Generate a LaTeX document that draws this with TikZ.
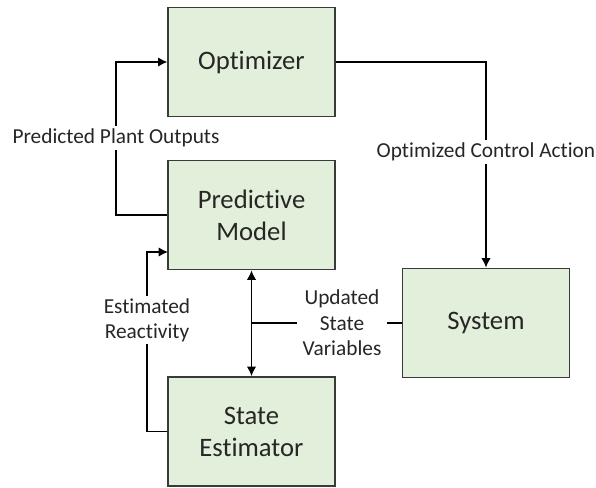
\documentclass[tikz,border=0pt]{standalone}
\usepackage{fontspec}
\setmainfont{Carlito}[Ligatures=NoCommon]
\usetikzlibrary{arrows.meta}
\definecolor{blockgreen}{HTML}{E2EFDA}
\definecolor{blockedge}{HTML}{3A3A3A}
\begin{document}
\begin{tikzpicture}[x=0.75pt,y=0.75pt,yscale=-1,xscale=1,
  block/.style={draw=blockedge, line width=1.2pt, fill=blockgreen, minimum width=125pt, minimum height=82pt, align=center, text=black!85, font=\fontsize{20}{24}\selectfont},
  signal/.style={line width=1pt, black, >={Latex[length=7pt, width=7pt]}},
  tag/.style={fill=white, inner sep=2pt, align=center, text=black!85, font=\fontsize{16}{19}\selectfont}]

\useasboundingbox (0, 0) rectangle (596, 488);

%%%%%%%%%%%%%%%%%%%%%%%%%%%%%%%%%%%%%%%%%%%%%%%%%%%%%%%%%%%%%%%%%%%%%%%%

\node [block] (Optimizer) at (251.5, 62) {Optimizer};
\node [block] (Model) at (251.5, 215) {Predictive\\Model};
\node [block] (Estimator) at (251.5, 431.5) {State\\Estimator};
\node [block] (System) at (486, 323) {System};

%%%%%%%%%%%%%%%%%%%%%%%%%%%%%%%%%%%%%%%%%%%%%%%%%%%%%%%%%%%%%%%%%%%%%%%%

\coordinate (outputs_turn) at (116, 215);
\draw [signal, ->] (Model.west) -- (outputs_turn) |- (Optimizer.west);
\node [tag] (outputs) at (116, 138) {Predicted Plant Outputs};

\draw [signal, ->] (Optimizer.east) -| (System.north);
\node [tag] (action) at (486, 152) {Optimized Control Action};

%%%%%%%%%%%%%%%%%%%%%%%%%%%%%%%%%%%%%%%%%%%%%%%%%%%%%%%%%%%%%%%%%%%%%%%%

\coordinate (reactivity_in) at (168, 252);
\coordinate (reactivity_turn) at (147, 431.5);
\draw [signal, ->] (Estimator.west) -- (reactivity_turn) |- (reactivity_in);
\node [tag] (reactivity) at (147, 320) {Estimated\\Reactivity};

\draw [signal, <->] (Model.south) -- (Estimator.north);
\coordinate (states_join) at (251.5, 323);
\draw [signal] (System.west) -- (states_join);
\node [tag, inner xsep=4pt] (states) at (342, 323) {Updated\\State\\Variables};

%%%%%%%%%%%%%%%%%%%%%%%%%%%%%%%%%%%%%%%%%%%%%%%%%%%%%%%%%%%%%%%%%%%%%%%%

\end{tikzpicture}
\end{document}
